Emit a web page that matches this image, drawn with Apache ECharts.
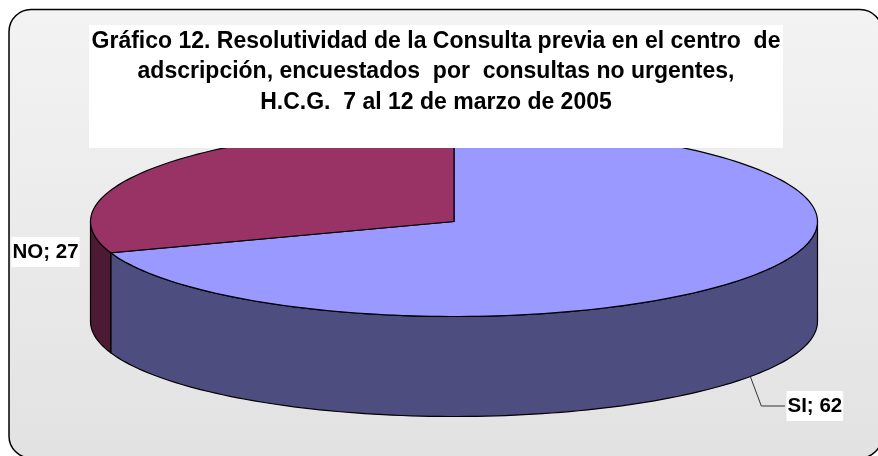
<!DOCTYPE html>
<html>
<head>
<meta charset="utf-8">
<title>Gráfico 12</title>
<script src="https://cdn.jsdelivr.net/npm/echarts@6/dist/echarts.min.js"></script>
<style>
  html, body { margin: 0; padding: 0; background: #fff; }
  #chart { width: 878px; height: 456px; }
</style>
</head>
<body>
<div id="chart"></div>
<script>
const categories = ['SI', 'NO']
const values = [62, 27]
const topColors = ['#9999ff', '#993366']
const sideColors = ['#4d4d7f', '#4d1a33']
const titleLines = [
  'Gráfico 12. Resolutividad de la Consulta previa en el centro  de',
  'adscripción, encuestados  por  consultas no urgentes,',
  'H.C.G.  7 al 12 de marzo de 2005'
]

// flattened pie geometry
const cx = 454, cy = 221.5, rx = 363.5, ry = 95, depth = 100
const total = values.reduce((a, b) => a + b, 0)

function rimPoint(deg, dy) {
  const r = deg * Math.PI / 180
  return [cx + rx * Math.sin(r), cy - ry * Math.cos(r) + (dy || 0)]
}

function arc(from, to, dy) {
  const pts = []
  const n = Math.max(2, Math.ceil((to - from) / 1.5))
  for (let i = 0; i <= n; i++) {
    pts.push(rimPoint(from + (to - from) * i / n, dy))
  }
  return pts
}

function sliceStart(index) {
  let sum = 0
  for (let i = 0; i < index; i++) sum += values[i]
  return sum / total * 360
}

function renderSlice(params, api) {
  const i = params.dataIndex
  const start = sliceStart(i)
  const end = start + api.value(0) / total * 360
  const children = []

  // front wall, only the part of the rim facing the viewer (90..270 deg)
  const from = Math.max(start, 90), to = Math.min(end, 270)
  if (to > from) {
    children.push({
      type: 'polygon',
      shape: { points: arc(from, to, 0).concat(arc(from, to, depth).reverse()) },
      style: { fill: sideColors[i], stroke: '#000', lineWidth: 1.2 }
    })
  }

  children.push({
    type: 'polygon',
    shape: { points: [[cx, cy]].concat(arc(start, end, 0)) },
    style: { fill: topColors[i], stroke: '#000', lineWidth: 1.2 }
  })

  return { type: 'group', children: children }
}

function renderLabels(params, api) {
  const i = params.dataIndex
  const text = categories[i] + '; ' + api.value(0)
  const start = sliceStart(i)
  const mid = start + api.value(0) / total * 180
  const font = 'bold 20.5px "Liberation Sans", Arial, sans-serif'
  const children = []
  if (i === 0) {
    const a = rimPoint(mid, depth)
    children.push({
      type: 'polyline',
      shape: { points: [a, [a[0] + 11, 406], [785, 406]] },
      style: { fill: null, stroke: '#333', lineWidth: 1 }
    })
    children.push({
      type: 'text',
      style: { x: 786.5, y: 406, text: text, font: font, fill: '#000', verticalAlign: 'middle',
        backgroundColor: '#fff', padding: [5, 1, 4, 1] }
    })
  } else {
    children.push({
      type: 'text',
      style: { x: 11.5, y: 252, text: text, font: font, fill: '#000', verticalAlign: 'middle',
        backgroundColor: '#fff', padding: [5, 1, 4, 1] }
    })
  }
  return { type: 'group', children: children }
}

const chart = echarts.init(document.getElementById('chart'), null, { renderer: 'canvas' })
chart.setOption({
  animation: false,
  title: {
    text: titleLines.join('\n'),
    left: 436,
    top: 26,
    textAlign: 'center',
    padding: 0,
    z: 8,
    textStyle: {
      fontFamily: '"Liberation Sans", Arial, sans-serif',
      fontSize: 23,
      fontWeight: 'bold',
      color: '#000',
      lineHeight: 30.5
    }
  },
  graphic: [
    {
      type: 'rect',
      z: -1,
      shape: { x: 9, y: 9.5, width: 873, height: 448.5, r: 22 },
      style: {
        stroke: '#000',
        lineWidth: 1.5,
        fill: {
          type: 'linear', x: 0, y: 0, x2: 0, y2: 1,
          colorStops: [{ offset: 0, color: '#f3f3f3' }, { offset: 1, color: '#e2e2e2' }]
        }
      }
    },
    {
      type: 'rect',
      z: 7,
      shape: { x: 89, y: 25, width: 694, height: 123 },
      style: { fill: '#fff' }
    }
  ],
  series: [
    {
      type: 'custom',
      coordinateSystem: 'none',
      z: 2,
      renderItem: renderSlice,
      data: values.map(v => [v])
    },
    {
      type: 'custom',
      coordinateSystem: 'none',
      z: 3,
      renderItem: renderLabels,
      data: values.map(v => [v])
    }
  ]
})
</script>
</body>
</html>
